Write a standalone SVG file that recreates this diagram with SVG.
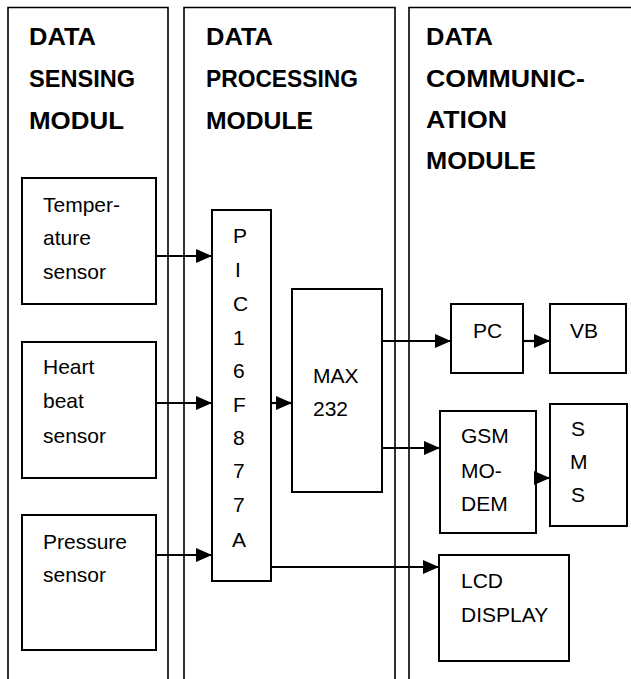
<svg xmlns="http://www.w3.org/2000/svg" width="631" height="679" viewBox="0 0 631 679">
<style>
.col{fill:none;stroke:#000;stroke-width:1.6}
.box{fill:#fff;stroke:#000;stroke-width:2}
.h{font-family:"Liberation Sans",Arial,sans-serif;font-weight:bold;font-size:24px;fill:#000}
.t{font-family:"Liberation Sans",Arial,sans-serif;font-size:21px;fill:#000}
.c{fill:none;stroke:#000;stroke-width:2.2}
</style>
<defs>
<marker id="arr" markerUnits="userSpaceOnUse" markerWidth="17" markerHeight="15" refX="16" refY="7" orient="auto">
<polygon points="0,0 16,7 0,14" fill="#000"/>
</marker>
</defs>
<rect width="631" height="679" fill="#fff"/>
<g id="col-sensing">
<path class="col" d="M8,690 V7.5 H168 V690"/>
<text class="h" x="29" y="45" textLength="67" lengthAdjust="spacingAndGlyphs">DATA</text>
<text class="h" x="29" y="87" textLength="106" lengthAdjust="spacingAndGlyphs">SENSING</text>
<text class="h" x="29" y="129" textLength="95" lengthAdjust="spacingAndGlyphs">MODUL</text>
</g>
<g id="col-processing">
<path class="col" d="M184,690 V7.5 H395 V690"/>
<text class="h" x="206" y="45" textLength="67" lengthAdjust="spacingAndGlyphs">DATA</text>
<text class="h" x="206" y="87" textLength="152" lengthAdjust="spacingAndGlyphs">PROCESSING</text>
<text class="h" x="206" y="129" textLength="107" lengthAdjust="spacingAndGlyphs">MODULE</text>
</g>
<g id="col-communication">
<path class="col" d="M409,690 V7.5 H640"/>
<text class="h" x="426" y="45" textLength="67" lengthAdjust="spacingAndGlyphs">DATA</text>
<text class="h" x="426" y="87" textLength="159" lengthAdjust="spacingAndGlyphs">COMMUNIC-</text>
<text class="h" x="426" y="128" textLength="81" lengthAdjust="spacingAndGlyphs">ATION</text>
<text class="h" x="426" y="169" textLength="110" lengthAdjust="spacingAndGlyphs">MODULE</text>
</g>
<g id="temp">
<rect class="box" x="22" y="178" width="134" height="126"/>
<text class="t" x="43" y="212">Temper-</text>
<text class="t" x="43" y="245">ature</text>
<text class="t" x="43" y="279">sensor</text>
</g>
<g id="heart">
<rect class="box" x="22" y="342" width="134" height="136"/>
<text class="t" x="43" y="374">Heart</text>
<text class="t" x="43" y="408">beat</text>
<text class="t" x="43" y="443">sensor</text>
</g>
<g id="pressure">
<rect class="box" x="22" y="515" width="134" height="135"/>
<text class="t" x="43" y="549">Pressure</text>
<text class="t" x="43" y="582">sensor</text>
</g>
<g id="pic">
<rect class="box" x="212" y="210" width="59" height="371"/>
<text class="t" x="233" y="243">P</text>
<text class="t" x="235" y="277">I</text>
<text class="t" x="233" y="311">C</text>
<text class="t" x="233" y="345">1</text>
<text class="t" x="233" y="378">6</text>
<text class="t" x="233" y="412">F</text>
<text class="t" x="233" y="445">8</text>
<text class="t" x="233" y="478">7</text>
<text class="t" x="233" y="512">7</text>
<text class="t" x="232" y="547">A</text>
</g>
<g id="max232">
<rect class="box" x="292" y="289" width="90" height="203"/>
<text class="t" x="313" y="383">MAX</text>
<text class="t" x="313" y="416">232</text>
</g>
<g id="pc">
<rect class="box" x="451" y="304" width="72" height="69"/>
<text class="t" x="473" y="338">PC</text>
</g>
<g id="vb">
<rect class="box" x="550" y="304" width="76" height="69"/>
<text class="t" x="570" y="338">VB</text>
</g>
<g id="gsm">
<rect class="box" x="440" y="411" width="96" height="122"/>
<text class="t" x="461" y="443">GSM</text>
<text class="t" x="461" y="478">MO-</text>
<text class="t" x="461" y="511">DEM</text>
</g>
<g id="sms">
<rect class="box" x="550" y="404" width="77" height="122"/>
<text class="t" x="571" y="436">S</text>
<text class="t" x="570" y="469">M</text>
<text class="t" x="571" y="502">S</text>
</g>
<g id="lcd">
<rect class="box" x="439" y="555" width="130" height="106"/>
<text class="t" x="461" y="588">LCD</text>
<text class="t" x="461" y="622">DISPLAY</text>
</g>
<g id="connectors">
<line class="c" x1="156" y1="256" x2="212" y2="256" marker-end="url(#arr)"/>
<line class="c" x1="156" y1="403" x2="212" y2="403" marker-end="url(#arr)"/>
<line class="c" x1="156" y1="555" x2="212" y2="555" marker-end="url(#arr)"/>
<line class="c" x1="271" y1="403" x2="292" y2="403" marker-end="url(#arr)"/>
<line class="c" x1="382" y1="341" x2="451" y2="341" marker-end="url(#arr)"/>
<line class="c" x1="523" y1="341" x2="550" y2="341" marker-end="url(#arr)"/>
<line class="c" x1="382" y1="448" x2="440" y2="448" marker-end="url(#arr)"/>
<line class="c" x1="536" y1="478" x2="550" y2="478" marker-end="url(#arr)"/>
<line class="c" x1="271" y1="567" x2="439" y2="567" marker-end="url(#arr)"/>
</g>
</svg>
